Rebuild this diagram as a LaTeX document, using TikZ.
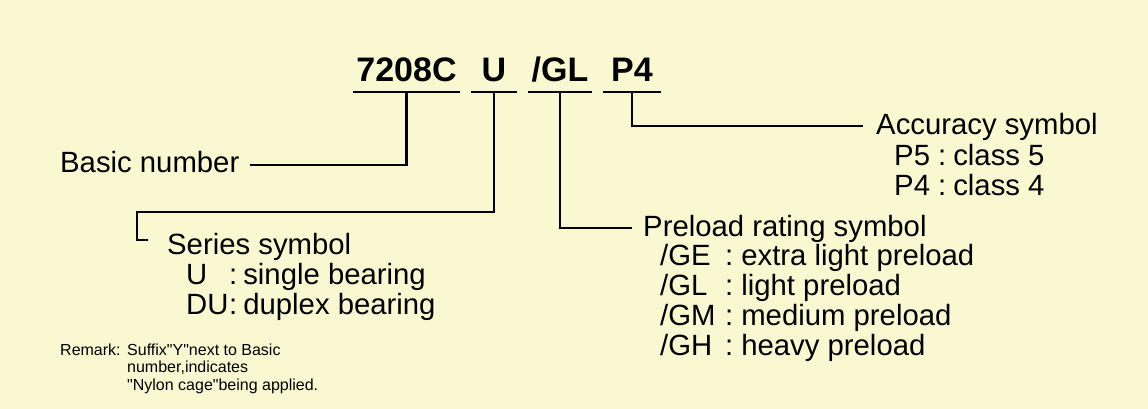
\documentclass[tikz,border=0pt]{standalone}
\usepackage{fontspec}
\setmainfont{Liberation Sans}
\usepackage{tikz}
\usetikzlibrary{calc}
\definecolor{paper}{RGB}{250,248,208}

\begin{document}
\begin{tikzpicture}[x=1pt, y=-1pt,
    code/.style={font=\fontsize{34}{40}\selectfont\bfseries, inner sep=0pt, text depth=0pt, anchor=base},
    body/.style={font=\fontsize{29.3}{30}\selectfont, inner sep=0pt, anchor=base west},
    small/.style={font=\fontsize{16}{17.5}\selectfont, inner sep=0pt, anchor=base west},
    lead/.style={line width=2.5pt}]
    % Background
    \fill[paper] (0,0) rectangle (1148,409);

    % Bearing code
    \node[code, minimum width=107pt] (t1) at (406.5,82) {7208C};
    \node[code, minimum width=46pt] (t2) at (494,82) {U};
    \node[code, minimum width=64pt] (t3) at (560,82) {/GL};
    \node[code, minimum width=58pt] (t4) at (632,82) {P4};
    \draw[lead] ([yshift=-10pt]t1.south west) -- ([yshift=-10pt]t1.south east);
    \draw[lead] ([yshift=-10pt]t2.south west) -- ([yshift=-10pt]t2.south east);
    \draw[lead] ([yshift=-10pt]t3.south west) -- ([yshift=-10pt]t3.south east);
    \draw[lead] ([yshift=-10pt]t4.south west) -- ([yshift=-10pt]t4.south east);

    % Basic number
    \node[body] (bn) at (60,172) {Basic number};
    \draw[lead] ([yshift=-10pt]t1.south) |- ($(bn.base east)+(10,-7)$);

    % Series symbol
    \node[body] (ser) at (167,254) {Series symbol};
    \node[body] (ser1) at (186,284) {\makebox[43pt][l]{U}:\hspace{6pt}single bearing};
    \node[body] (ser2) at (186,314) {\makebox[43pt][l]{DU}:\hspace{6pt}duplex bearing};
    \coordinate (uelbow) at (137,212);
    \coordinate (uend) at ($(ser.base west)+(-19,-14)$);
    \draw[lead] ([yshift=-10pt]t2.south) |- (uelbow) |- (uend);

    % Preload rating symbol
    \node[body] (pre) at (643,236) {Preload rating symbol};
    \node[body] (pre1) at (660,265) {\makebox[65pt][l]{/GE}:\hspace{8pt}extra light preload};
    \node[body] (pre2) at (660,295) {\makebox[65pt][l]{/GL}:\hspace{8pt}light preload};
    \node[body] (pre3) at (660,325) {\makebox[65pt][l]{/GM}:\hspace{8pt}medium preload};
    \node[body] (pre4) at (660,355) {\makebox[65pt][l]{/GH}:\hspace{8pt}heavy preload};
    \draw[lead] ([yshift=-10pt]t3.south) |- ($(pre.base west)+(-11,-8)$);

    % Accuracy symbol
    \node[body] (acc) at (876,135) {Accuracy symbol};
    \node[body] (acc1) at (894,165) {\makebox[44pt][l]{P5}:\hspace{7pt}class 5};
    \node[body] (acc2) at (894,195) {\makebox[44pt][l]{P4}:\hspace{7pt}class 4};
    \draw[lead] ([yshift=-10pt]t4.south) |- ($(acc.base west)+(-13,-9)$);

    % Remark
    \node[small] (rem) at (60,355) {Remark:};
    \node[small] (rem1) at (127,355) {Suffix\textquotedbl Y\textquotedbl next to Basic};
    \node[small] (rem2) at (127,372.5) {number,indicates};
    \node[small] (rem3) at (127,390) {\textquotedbl Nylon cage\textquotedbl being applied.};
\end{tikzpicture}
\end{document}
